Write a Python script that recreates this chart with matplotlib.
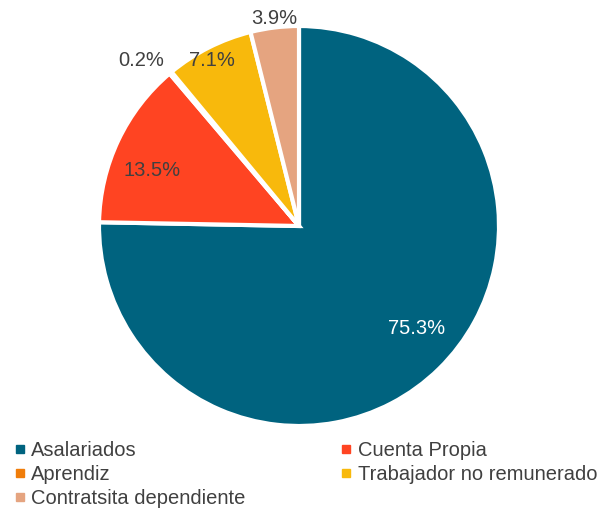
import matplotlib
matplotlib.use("Agg")
import matplotlib.pyplot as plt
from matplotlib.lines import Line2D

plt.rcParams["font.family"] = ["Liberation Sans", "DejaVu Sans"]

# ── Data ──────────────────────────────────────────────────────
categories = ["Asalariados", "Cuenta Propia", "Aprendiz",
              "Trabajador no remunerado", "Contratsita dependiente"]
shares     = [75.3, 13.5, 0.2, 7.1, 3.9]
colors     = ["#00637F", "#FF4422", "#F07D0A", "#F8B90C", "#E5A480"]

# label positions (data coords, radius = 1)
label_pos  = [(0.59, -0.51), (-0.735, 0.28), (-0.79, 0.83),
              (-0.435, 0.83), (-0.125, 1.04)]
label_col  = ["white", "#404040", "#404040", "#404040", "#404040"]

W, H = 611, 512
fig = plt.figure(figsize=(W / 100, H / 100), dpi=100)
cx, cy, r = 299, 226, 200
ax = fig.add_axes([(cx - r) / W, (H - cy - r) / H, 2 * r / W, 2 * r / H])

wedges, _ = ax.pie(shares, colors=colors, startangle=90, counterclock=False,
                   radius=1.0,
                   wedgeprops=dict(edgecolor="white", linewidth=3))
ax.set_xlim(-1, 1)
ax.set_ylim(-1, 1)
ax.set_aspect("equal")
ax.axis("off")

for v, (x, y), c in zip(shares, label_pos, label_col):
    ax.text(x, y, f"{v:.1f}%", ha="center", va="center",
            fontsize=14.5, color=c, clip_on=False)

# legend (matplotlib fills columns first -> reorder for row-wise look)
order = [0, 2, 4, 1, 3]
handles = [Line2D([], [], marker="s", linestyle="none", markersize=5.5,
                  color=colors[i]) for i in order]
labels = [categories[i] for i in order]
fig.legend(handles, labels, ncol=2, loc="upper left",
           bbox_to_anchor=(-0.003, 1 - 427 / H), frameon=False,
           fontsize=14.5, labelcolor="#404040", handletextpad=0.2,
           handlelength=0.75, columnspacing=4.6, labelspacing=0.24,
           borderaxespad=0.3)

fig.savefig("out.png", dpi=100)
